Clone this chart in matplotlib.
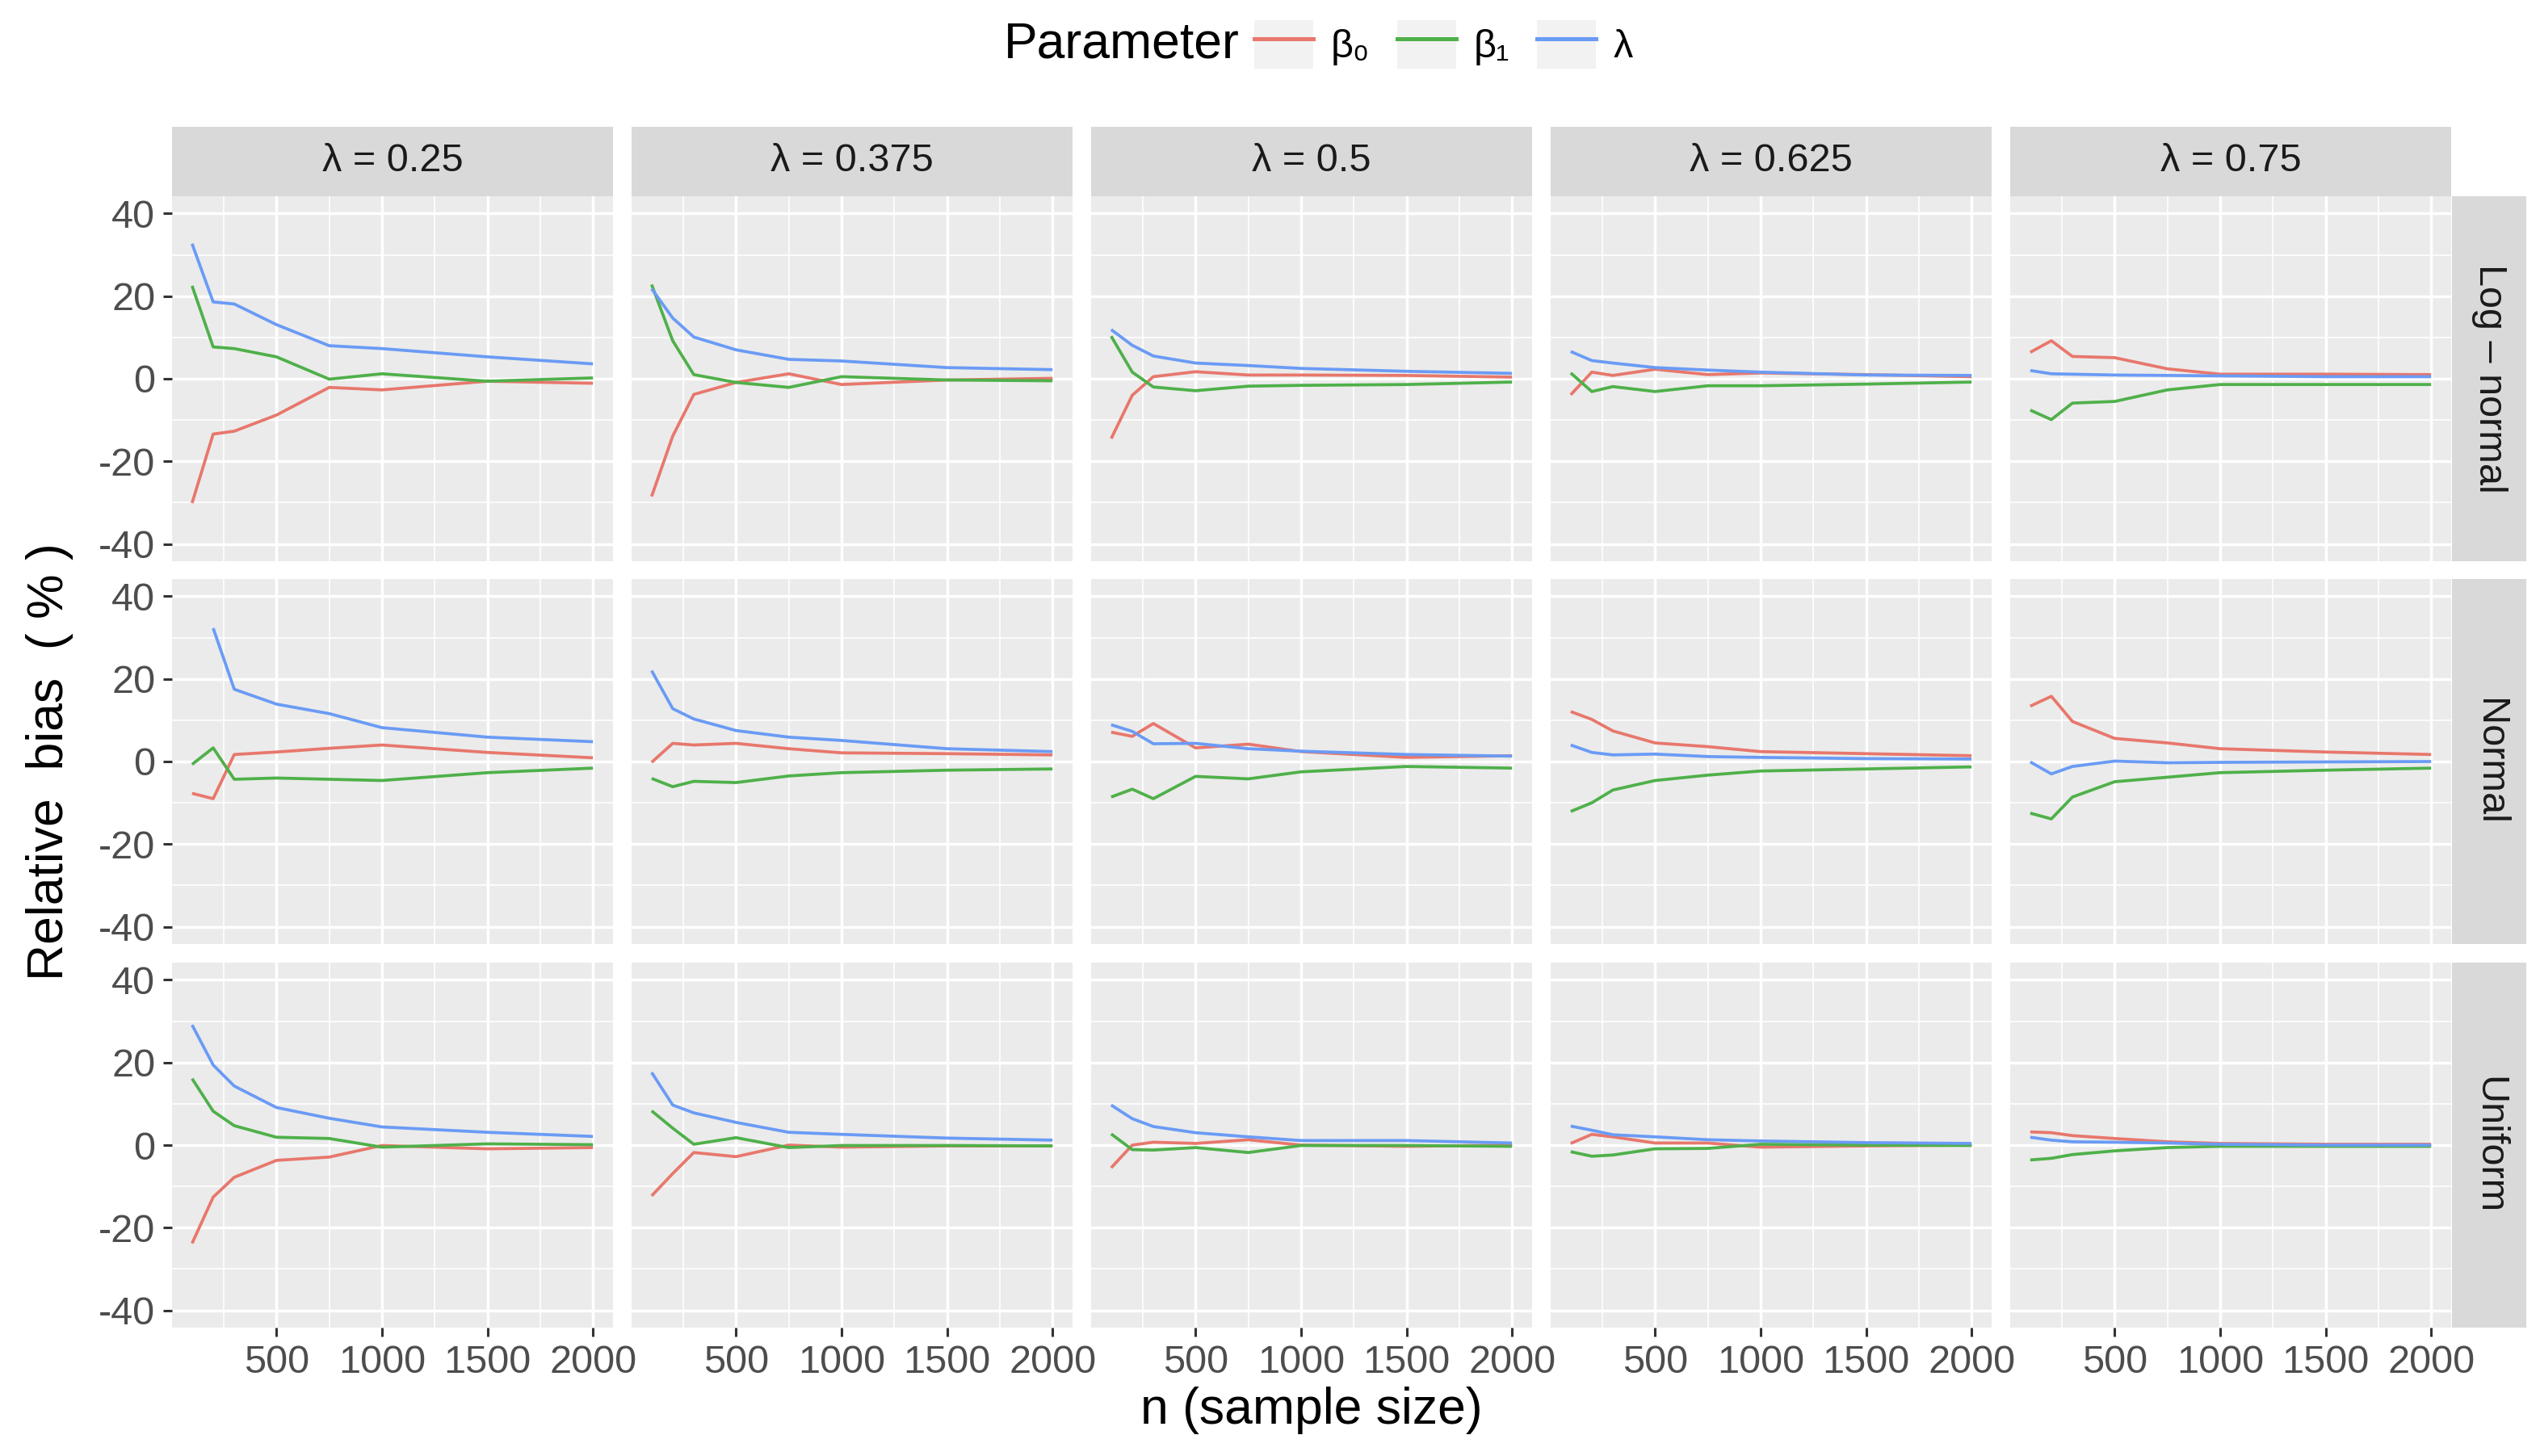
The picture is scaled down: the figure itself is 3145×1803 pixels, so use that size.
import numpy as np
import matplotlib
matplotlib.use('Agg')
import matplotlib.pyplot as plt
from matplotlib.patches import Rectangle
from matplotlib.lines import Line2D
from matplotlib.font_manager import FontProperties

plt.rcParams['font.family'] = ['Liberation Sans', 'DejaVu Sans']
plt.rcParams['axes.unicode_minus'] = False

W, H = 3145, 1803
nan = np.nan

n_vals = [100, 200, 300, 500, 750, 1000, 1500, 2000]
lambda_labels = ['0.25', '0.375', '0.5', '0.625', '0.75']
dist_labels = ['Log \u2013 normal', 'Normal', 'Uniform']
param_labels = ['\u03b2\u2080', '\u03b2\u2081', '\u03bb']
colors = ['#E8776C', '#4FB04A', '#6A9BF5']

# relative bias (%), one row per lambda column
beta0_lognormal = [[-30.1, -13.4, -12.7, -8.8, -2.1, -2.7, -0.6, -1.1],
                   [-28.5, -13.9, -3.8, -0.9, 1.2, -1.4, -0.3, 0.1],
                   [-14.5, -4.0, 0.5, 1.7, 0.9, 0.9, 0.8, 0.4],
                   [-3.9, 1.6, 0.8, 2.3, 1.0, 1.4, 1.0, 0.5],
                   [6.4, 9.2, 5.4, 5.1, 2.4, 1.1, 1.1, 1.0]]
beta1_lognormal = [[22.5, 7.7, 7.3, 5.3, -0.1, 1.2, -0.6, 0.2],
                   [22.8, 9.2, 1.0, -0.9, -2.1, 0.5, -0.3, -0.5],
                   [10.3, 1.6, -2.0, -2.9, -1.8, -1.6, -1.4, -0.8],
                   [1.4, -3.1, -1.9, -3.1, -1.7, -1.7, -1.3, -0.8],
                   [-7.6, -9.9, -5.9, -5.5, -2.7, -1.4, -1.4, -1.4]]
lam_lognormal = [[32.7, 18.6, 18.1, 13.1, 8.0, 7.3, 5.3, 3.6],
                 [21.8, 14.7, 10.1, 7.0, 4.7, 4.3, 2.7, 2.2],
                 [11.9, 8.1, 5.5, 3.8, 3.2, 2.5, 1.8, 1.3],
                 [6.6, 4.4, 3.8, 2.7, 2.1, 1.6, 0.9, 0.8],
                 [2.0, 1.2, 1.1, 0.9, 0.8, 0.7, 0.5, 0.5]]

beta0_normal = [[-7.7, -9.0, 1.7, 2.3, 3.2, 4.0, 2.2, 0.9],
                [-0.2, 4.4, 4.0, 4.4, 3.1, 2.1, 1.9, 1.6],
                [7.1, 6.1, 9.2, 3.3, 4.2, 2.4, 1.0, 1.4],
                [12.1, 10.2, 7.4, 4.5, 3.6, 2.4, 1.9, 1.4],
                [13.4, 15.8, 9.7, 5.6, 4.5, 3.1, 2.3, 1.7]]
beta1_normal = [[-0.7, 3.3, -4.3, -4.0, -4.3, -4.6, -2.7, -1.6],
                [-4.1, -6.1, -4.8, -5.1, -3.5, -2.7, -2.1, -1.8],
                [-8.6, -6.7, -9.0, -3.6, -4.2, -2.5, -1.2, -1.6],
                [-12.1, -10.0, -6.9, -4.6, -3.3, -2.3, -1.8, -1.3],
                [-12.5, -13.9, -8.6, -4.9, -3.8, -2.7, -2.1, -1.6]]
lam_normal = [[nan, 32.3, 17.5, 13.9, 11.6, 8.2, 5.9, 4.8],
              [22.0, 12.8, 10.3, 7.5, 5.9, 5.1, 3.1, 2.4],
              [8.9, 7.3, 4.3, 4.4, 3.1, 2.5, 1.7, 1.3],
              [4.0, 2.2, 1.6, 1.8, 1.2, 1.0, 0.7, 0.6],
              [-0.1, -3.0, -1.2, 0.1, -0.3, -0.2, -0.1, 0.0]]

beta0_uniform = [[-23.8, -12.6, -7.8, -3.7, -2.9, -0.1, -0.9, -0.6],
                 [-12.3, -6.9, -1.8, -2.8, 0.0, -0.5, -0.2, -0.2],
                 [-5.5, 0.0, 0.7, 0.4, 1.3, 0.0, -0.3, 0.0],
                 [0.4, 2.6, 2.0, 0.5, 0.5, -0.5, -0.2, 0.0],
                 [3.2, 3.0, 2.3, 1.6, 0.8, 0.4, 0.2, 0.2]]
beta1_uniform = [[16.1, 8.2, 4.7, 1.9, 1.6, -0.5, 0.3, 0.1],
                 [8.3, 4.1, 0.2, 1.8, -0.6, -0.1, -0.1, -0.2],
                 [2.7, -1.1, -1.2, -0.6, -1.8, -0.1, -0.1, -0.3],
                 [-1.6, -2.7, -2.4, -0.9, -0.8, 0.2, 0.0, -0.1],
                 [-3.6, -3.2, -2.3, -1.4, -0.6, -0.3, -0.3, -0.3]]
lam_uniform = [[29.1, 19.4, 14.3, 9.1, 6.5, 4.4, 3.1, 2.1],
               [17.6, 9.7, 7.8, 5.5, 3.1, 2.6, 1.7, 1.2],
               [9.7, 6.4, 4.5, 3.0, 2.0, 1.1, 1.1, 0.5],
               [4.6, 3.6, 2.5, 2.0, 1.3, 1.0, 0.6, 0.4],
               [1.9, 1.2, 0.8, 0.7, 0.5, 0.2, 0.0, 0.0]]

rows = [(beta0_lognormal, beta1_lognormal, lam_lognormal),
        (beta0_normal, beta1_normal, lam_normal),
        (beta0_uniform, beta1_uniform, lam_uniform)]

# layout in pixels
col_left = [213, 782, 1351, 1920, 2489]
panel_w = 546
row_top = [243, 717, 1192]
panel_h = 452
strip = 86

SMALL = 17.5
BIG = 22.5
GRID = '#EBEBEB'
STRIP = '#D9D9D9'

fig = plt.figure(figsize=(W / 200, H / 200), dpi=200)


def fbox(x0, y0, w, h):
    return [x0 / W, 1 - (y0 + h) / H, w / W, h / H]


for r in range(3):
    for c in range(5):
        ax = fig.add_axes(fbox(col_left[c], row_top[r], panel_w, panel_h))
        ax.set_facecolor(GRID)
        for s in ax.spines.values():
            s.set_visible(False)
        ax.set_xlim(5, 2095)
        ax.set_ylim(-44.2, 44.2)
        ax.set_xticks([500, 1000, 1500, 2000])
        ax.set_xticks([250, 750, 1250, 1750], minor=True)
        ax.set_yticks([-40, -20, 0, 20, 40])
        ax.set_yticks([-30, -10, 10, 30], minor=True)
        ax.grid(which='major', color='white', lw=1.25)
        ax.grid(which='minor', color='white', lw=0.6)
        ax.set_axisbelow(True)
        ax.tick_params(which='minor', length=0)
        ax.tick_params(which='major', length=4, width=1.1, color='#333333',
                       labelcolor='#4D4D4D', labelsize=SMALL, pad=3.5)
        ax.tick_params(left=(c == 0), labelleft=(c == 0),
                       bottom=(r == 2), labelbottom=(r == 2))
        for k in range(3):
            ax.plot(n_vals, rows[r][k][c], color=colors[k], lw=1.35,
                    solid_capstyle='butt', solid_joinstyle='round')

# top strips
for c in range(5):
    sax = fig.add_axes(fbox(col_left[c], row_top[0] - strip, panel_w, strip))
    sax.set_facecolor(STRIP)
    sax.set_xticks([])
    sax.set_yticks([])
    for s in sax.spines.values():
        s.set_visible(False)
    sax.text(0.5, 0.5, '\u03bb = ' + lambda_labels[c], ha='center', va='center',
             fontsize=SMALL, color='#1A1A1A', transform=sax.transAxes)

# right strips
for r in range(3):
    sax = fig.add_axes(fbox(col_left[4] + panel_w + 1, row_top[r], strip + 6, panel_h))
    sax.set_facecolor(STRIP)
    sax.set_xticks([])
    sax.set_yticks([])
    for s in sax.spines.values():
        s.set_visible(False)
    sax.text(0.5, 0.5, dist_labels[r], ha='center', va='center', rotation=-90,
             fontsize=SMALL, color='#1A1A1A', transform=sax.transAxes)

# axis titles
mid_x = (col_left[0] + col_left[4] + panel_w) / 2 / W
fig.text(mid_x, 1 - 1746 / H, 'n (sample size)', ha='center', va='center',
         fontsize=BIG)
fig.text(62 / W, 1 - 943 / H, 'Relative  bias  ( % )', ha='center', va='center',
         rotation=90, fontsize=BIG)

# legend
fig.text(1243 / W, 1 - 55 / H, 'Parameter', ha='left', va='center', fontsize=BIG)
handles = [(Rectangle((0, 0), 1, 1, fc='#F2F2F2', ec='none'),
            Line2D([], [], color=col, lw=1.8)) for col in colors]
fig.legend(handles, param_labels, loc='center left',
           bbox_to_anchor=(1553 / W, 1 - 55 / H), ncol=3, frameon=False,
           handlelength=1.5, handleheight=1.5, handletextpad=0.45,
           columnspacing=0.7, borderpad=0, borderaxespad=0,
           prop=FontProperties(family=['Liberation Sans', 'DejaVu Sans'], size=SMALL))

fig.savefig('out.png', dpi=200, facecolor='white')
